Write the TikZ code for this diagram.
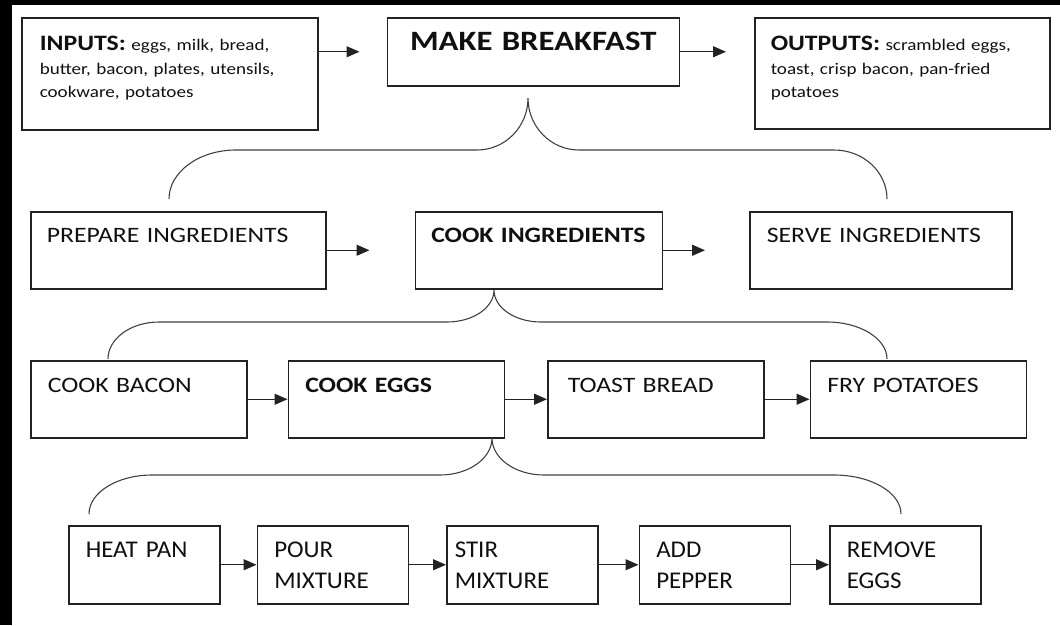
\documentclass[tikz,border=0pt]{standalone}
\usepackage{fontspec}
\setmainfont{Carlito}[FakeStretch=1.17]
\newfontfamily\stepfont{Carlito}[FakeStretch=1.04]
\usetikzlibrary{
  arrows.meta,
  positioning
}
\definecolor{boxline}{RGB}{34,34,34}
\definecolor{braceline}{RGB}{64,64,64}
\definecolor{labelcolor}{RGB}{16,16,16}
\tikzset{
iobox/.style={
  draw=boxline,
  line width=1.5pt,
  anchor=north west,
  inner sep=0pt,
  inner xsep=17pt,
  align=left,
  text height=33pt,
  font=\fontsize{16.3}{23.5}\selectfont,
  text=labelcolor
},
taskbox/.style={
  draw=boxline,
  line width=1.5pt,
  inner sep=0pt,
  inner xsep=17pt,
  align=left,
  text width=182pt,
  text height=31pt,
  text depth=46pt,
  font=\fontsize{22}{27}\selectfont,
  text=labelcolor
},
stepbox/.style={
  draw=boxline,
  line width=1.5pt,
  inner sep=0pt,
  inner xsep=17pt,
  align=left,
  text width=117pt,
  text height=32pt,
  text depth=46pt,
  font=\stepfont\fontsize{24}{31}\selectfont,
  text=labelcolor
},
arr/.style={
  -{Triangle[length=13pt,width=11pt]},
  line width=1.3pt,
  draw=boxline
},
bracket/.style={
  draw=braceline,
  line width=1.1pt
}
}

\begin{document}
\begin{tikzpicture}[x=1pt, y=-1pt]
  \useasboundingbox (0,0) rectangle (1060,625);
  \fill[black] (0,0) rectangle (12,625);
  \fill[black] (0,0) rectangle (1060,5);

  % Top row: inputs, task, outputs
  \node[iobox, text width=260pt, inner xsep=18pt, text depth=79pt] (inputs) at (21,17)
    {{\fontsize{22}{23.5}\selectfont\bfseries INPUTS:} eggs, milk, bread,\\butter, bacon, plates, utensils,\\cookware, potatoes};
  \node[iobox, text width=272pt, inner xsep=10pt, text depth=35pt, align=center,
        font=\fontsize{28}{30}\selectfont\bfseries, right=68pt of inputs.north east, anchor=north west] (make)
    {MAKE BREAKFAST};
  \node[iobox, text width=263pt, inner xsep=16pt, text depth=78pt,
        right=74pt of make.north east, anchor=north west] (outputs)
    {{\fontsize{22}{23.5}\selectfont\bfseries OUTPUTS:} scrambled eggs,\\toast, crisp bacon, pan-fried\\potatoes};

  % Row 2
  \node[taskbox, text width=263pt, inner xsep=16pt, anchor=north west] (prep) at (30,211) {PREPARE INGREDIENTS};
  \node[taskbox, text width=215pt, inner xsep=16pt, right=88pt of prep] (cook) {\bfseries COOK~INGREDIENTS};
  \node[taskbox, text width=228pt, right=86pt of cook] (serve) {SERVE INGREDIENTS};

  % Row 3
  \node[taskbox, anchor=north west, text height=32pt, text depth=45pt] (bacon) at (30,360) {COOK BACON};
  \node[taskbox, text height=32pt, text depth=45pt, right=40pt of bacon] (eggs) {\bfseries COOK EGGS};
  \node[taskbox, text height=32pt, text depth=45pt, inner xsep=20pt, text width=176pt, right=42pt of eggs] (toast) {TOAST BREAD};
  \node[taskbox, text height=32pt, text depth=45pt, right=45pt of toast] (fry) {FRY POTATOES};

  % Row 4
  \node[stepbox, anchor=north west] (heat) at (68,525) {HEAT PAN};
  \node[stepbox, right=36pt of heat] (pour) {POUR\\MIXTURE};
  \node[stepbox, inner xsep=8pt, text width=135pt, right=37pt of pour] (stir) {STIR\\MIXTURE};
  \node[stepbox, right=40pt of stir] (pepper) {ADD\\PEPPER};
  \node[stepbox, right=38pt of pepper] (remove) {REMOVE\\EGGS};

  % Arrows
  \draw[arr, shorten >=27pt] (inputs.east |- make.west) -- (make.west);
  \draw[arr, shorten >=28pt] (make.east) -- (make.east -| outputs.west);
  \draw[arr, shorten >=45pt] (prep) -- (cook);
  \draw[arr, shorten >=44pt] (cook) -- (serve);
  \draw[arr] (bacon) -- (eggs);
  \draw[arr] (eggs) -- (toast);
  \draw[arr] (toast) -- (fry);
  \draw[arr] (heat) -- (pour);
  \draw[arr] (pour) -- (stir);
  \draw[arr] (stir) -- (pepper);
  \draw[arr] (pepper) -- (remove);

  % Braces
  \draw[bracket] (169,199) .. controls (169,171.9) and (199,150) .. (236,150) -- (477,150)
    .. controls (505.2,150) and (528,126.7) .. (528,98)
    .. controls (528,126.7) and (550.8,150) .. (579,150) -- (834,150)
    .. controls (863.3,150) and (887,171.9) .. (887,199);
  \draw[bracket] (108,359) .. controls (108,338.6) and (130.8,322) .. (159,322) -- (447,322)
    .. controls (473,322) and (494,307.7) .. (494,290)
    .. controls (494,307.7) and (515,322) .. (541,322) -- (827,322)
    .. controls (860.1,322) and (887,338.6) .. (887,359);
  \draw[bracket] (89,514) .. controls (89,492.5) and (117.2,475) .. (152,475) -- (440,475)
    .. controls (468.7,475) and (492,458.4) .. (492,438)
    .. controls (492,458.4) and (515.3,475) .. (544,475) -- (834,475)
    .. controls (871,475) and (901,492.5) .. (901,514);
\end{tikzpicture}
\end{document}
